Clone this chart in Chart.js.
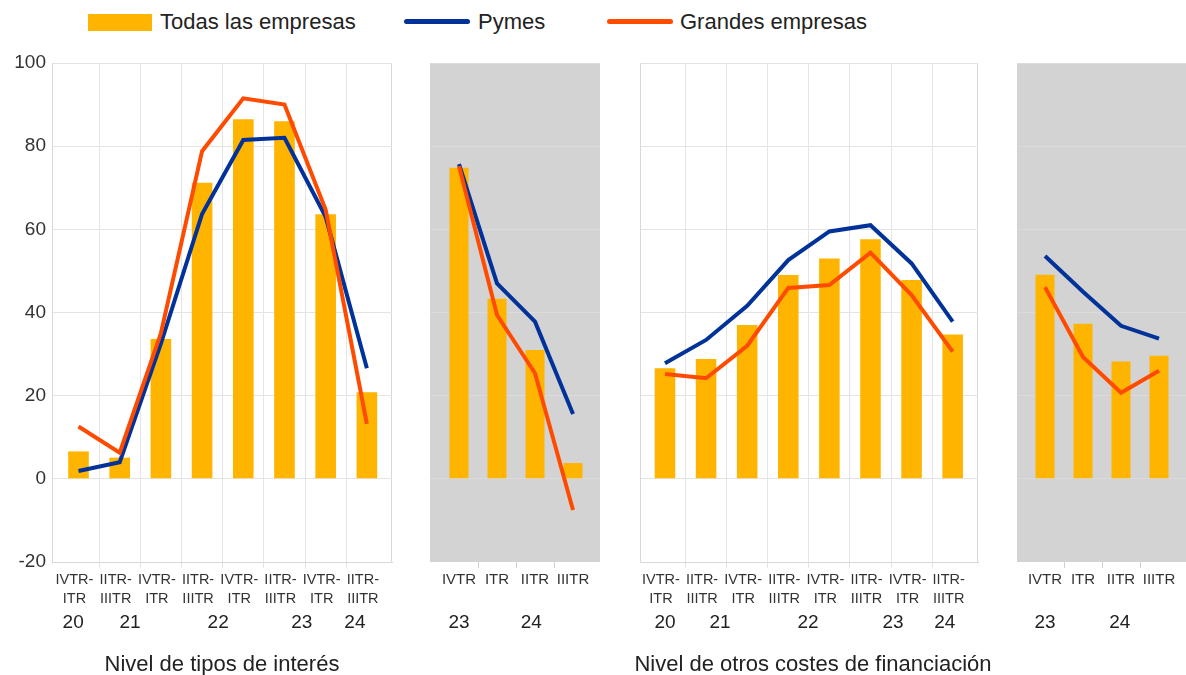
<!DOCTYPE html>
<html>
<head>
<meta charset="utf-8">
<script src="https://cdn.jsdelivr.net/npm/chart.js@4.4.1/dist/chart.umd.min.js"></script>
<style>
  body { margin: 0; width: 1186px; height: 675px; background: #fff; position: relative; overflow: hidden;
         font-family: "Liberation Sans", Arial, sans-serif; color: #222; }
  canvas { position: absolute; top: 0; }
  .key { position: absolute; }
  .txt { position: absolute; font-size: 22px; line-height: 26px; white-space: nowrap; }
  .title { position: absolute; top: 651px; font-size: 22px; line-height: 26px; text-align: center; white-space: nowrap; }
</style>
</head>
<body>
<div class="key" style="left:88px; top:14px; width:64px; height:17px; background:#FFB400"></div>
<div class="txt" style="left:160px; top:9px">Todas las empresas</div>
<div class="key" style="left:404px; top:19px; width:66px; height:5px; border-radius:3px; background:#003299"></div>
<div class="txt" style="left:478px; top:9px">Pymes</div>
<div class="key" style="left:607px; top:19px; width:66px; height:5px; border-radius:3px; background:#FF4B00"></div>
<div class="txt" style="left:680px; top:9px">Grandes empresas</div>

<canvas id="c1" width="400" height="675" style="left:0"></canvas>
<canvas id="c2" width="190" height="675" style="left:420px"></canvas>
<canvas id="c3" width="360" height="675" style="left:630px"></canvas>
<canvas id="c4" width="179" height="675" style="left:1007px"></canvas>

<div class="title" style="left:72px; width:300px">Nivel de tipos de interés</div>
<div class="title" style="left:613px; width:400px">Nivel de otros costes de financiación</div>

<script>
// Etiquetas
const periodsLong = [
    ['IVTR-', 'ITR'], ['IITR-', 'IIITR'], ['IVTR-', 'ITR'], ['IITR-', 'IIITR'],
    ['IVTR-', 'ITR'], ['IITR-', 'IIITR'], ['IVTR-', 'ITR'], ['IITR-', 'IIITR'],
];
const periodsShort = ['IVTR', 'ITR', 'IITR', 'IIITR'];
const yearsLong = ['20', '21', '22', '23', '24'];
const yearsShort = ['23', '24'];

// Nivel de tipos de interés
const todasTipos = [6.6, 5.1, 33.6, 71.2, 86.5, 86.0, 63.6, 20.8];
const pymesTipos = [1.9, 4.0, 32.5, 63.7, 81.5, 82.0, 63.0, 26.6];
const grandesTipos = [12.6, 6.3, 35.0, 78.8, 91.5, 90.0, 64.7, 13.2];

const todasTiposExp = [74.8, 43.3, 31.0, 3.8];
const pymesTiposExp = [75.7, 47.0, 37.8, 15.6];
const grandesTiposExp = [75.2, 39.4, 25.4, -7.5];

// Nivel de otros costes de financiación
const todasOtros = [26.6, 28.8, 37.0, 49.0, 53.0, 57.6, 47.8, 34.7];
const pymesOtros = [27.8, 33.4, 41.6, 52.6, 59.5, 61.0, 51.8, 37.8];
const grandesOtros = [25.2, 24.2, 32.0, 45.9, 46.6, 54.4, 44.2, 30.6];

const todasOtrosExp = [49.1, 37.3, 28.2, 29.6];
const pymesOtrosExp = [53.6, 45.0, 36.8, 33.7];
const grandesOtrosExp = [46.1, 29.3, 20.7, 26.0];

const yTicks = [-20, 0, 20, 40, 60, 80, 100];

const barColor = '#FFB400';
const pymesColor = '#003299';
const grandesColor = '#FF4B00';
const gridColor = '#E4E4E4';
const frameColor = '#D8D8D8';
const sansFont = '"Liberation Sans", Arial, sans-serif';

const panelBox = {
    id: 'panelBox',
    beforeDraw(chart, args, opts) {
        const { ctx, chartArea: a } = chart;
        ctx.save();
        if (opts.fill) {
            ctx.fillStyle = opts.fill;
            ctx.fillRect(a.left, a.top, a.right - a.left, a.bottom - a.top);
        }
        if (opts.stroke) {
            ctx.strokeStyle = opts.stroke;
            ctx.lineWidth = 1;
            ctx.strokeRect(Math.round(a.left) + 0.5, Math.round(a.top) + 0.5,
                Math.round(a.right - a.left) - 1, Math.round(a.bottom - a.top));
        }
        ctx.restore();
    },
};

const yearRow = {
    id: 'yearRow',
    afterDraw(chart, args, opts) {
        const { ctx, chartArea } = chart;
        const xScale = chart.scales.x;
        ctx.save();
        ctx.font = '19px ' + sansFont;
        ctx.fillStyle = '#222';
        ctx.textAlign = 'center';
        ctx.textBaseline = 'alphabetic';
        opts.labels.forEach((label, i) => {
            ctx.fillText(label, xScale.getPixelForValue(opts.at[i]), chartArea.bottom + 66);
        });
        ctx.restore();
    },
};

const toPoints = (values) => values.map((y, x) => ({ x, y }));

const buildPanel = (id, { labels, todas, pymes, grandes, years, yearsAt, min, max, padding, gray, showY }) => {
    const ctx = document.getElementById(id).getContext('2d');
    const n = labels.length;
    const innerLine = (c) => (c.index > 0 && c.index < n ? (gray ? '#CFCFCF' : gridColor) : 'rgba(0,0,0,0)');

    // eslint-disable-next-line no-new
    new Chart(ctx, {
        type: 'bar',
        data: {
            datasets: [
                {
                    type: 'line',
                    label: 'Grandes empresas',
                    data: toPoints(grandes),
                    borderColor: grandesColor,
                    borderWidth: 4,
                    pointRadius: 0,
                    tension: 0,
                    order: 1,
                },
                {
                    type: 'line',
                    label: 'Pymes',
                    data: toPoints(pymes),
                    borderColor: pymesColor,
                    borderWidth: 4,
                    pointRadius: 0,
                    tension: 0,
                    order: 2,
                },
                {
                    label: 'Todas las empresas',
                    data: toPoints(todas),
                    backgroundColor: barColor,
                    categoryPercentage: 0.5,
                    barPercentage: 1,
                    order: 3,
                },
            ],
        },
        options: {
            responsive: false,
            animation: false,
            events: [],
            layout: { padding },
            plugins: {
                legend: { display: false },
                tooltip: { enabled: false },
                panelBox: gray ? { fill: '#D3D3D3' } : { stroke: frameColor },
                yearRow: { labels: years, at: yearsAt },
            },
            scales: {
                x: {
                    type: 'linear',
                    min,
                    max,
                    offset: false,
                    afterBuildTicks: (s) => { s.ticks = labels.map((_, i) => ({ value: i })); },
                    afterFit: (s) => { s.height = 113; s.paddingLeft = 0; s.paddingRight = 0; },
                    ticks: {
                        autoSkip: false,
                        maxRotation: 0,
                        minRotation: 0,
                        padding: 2,
                        labelOffset: gray ? 0 : -4,
                        color: '#333',
                        font: { family: sansFont, size: gray ? 15 : 14.5, lineHeight: 1.32 },
                        callback: (v, i) => labels[i],
                    },
                    grid: {
                        offset: true,
                        drawOnChartArea: !gray,
                        color: innerLine,
                        tickColor: innerLine,
                        tickLength: 6,
                    },
                    border: { display: !gray, color: frameColor },
                },
                y: {
                    min: -20,
                    max: 100,
                    afterBuildTicks: (s) => { s.ticks = yTicks.map((value) => ({ value })); },
                    afterFit: (s) => { s.width = showY ? 52 : 0; s.paddingTop = 0; s.paddingBottom = 0; },
                    ticks: {
                        display: showY,
                        padding: 6,
                        color: '#333',
                        font: { family: sansFont, size: 19 },
                    },
                    grid: {
                        color: gray ? 'rgba(255,255,255,0.18)' : gridColor,
                        drawTicks: false,
                    },
                    border: { display: !gray, color: frameColor },
                },
            },
        },
        plugins: [panelBox, yearRow],
    });
};

buildPanel('c1', {
    labels: periodsLong, todas: todasTipos, pymes: pymesTipos, grandes: grandesTipos,
    years: yearsLong, yearsAt: [-0.13, 1.25, 3.39, 5.42, 6.71],
    min: -0.643, max: 7.61, padding: { top: 63, left: 0, right: 8, bottom: 0 }, gray: false, showY: true,
});
buildPanel('c2', {
    labels: periodsShort, todas: todasTiposExp, pymes: pymesTiposExp, grandes: grandesTiposExp,
    years: yearsShort, yearsAt: [0, 1.9],
    min: -0.763, max: 3.71, padding: { top: 63, left: 10, right: 10, bottom: 0 }, gray: true, showY: false,
});
buildPanel('c3', {
    labels: periodsLong, todas: todasOtros, pymes: pymesOtros, grandes: grandesOtros,
    years: yearsLong, yearsAt: [0, 1.34, 3.48, 5.55, 6.81],
    min: -0.608, max: 7.616, padding: { top: 63, left: 10, right: 12, bottom: 0 }, gray: false, showY: false,
});
buildPanel('c4', {
    labels: periodsShort, todas: todasOtrosExp, pymes: pymesOtrosExp, grandes: grandesOtrosExp,
    years: yearsShort, yearsAt: [0, 1.97],
    min: -0.737, max: 3.71, padding: { top: 63, left: 10, right: 0, bottom: 0 }, gray: true, showY: false,
});
</script>
</body>
</html>
